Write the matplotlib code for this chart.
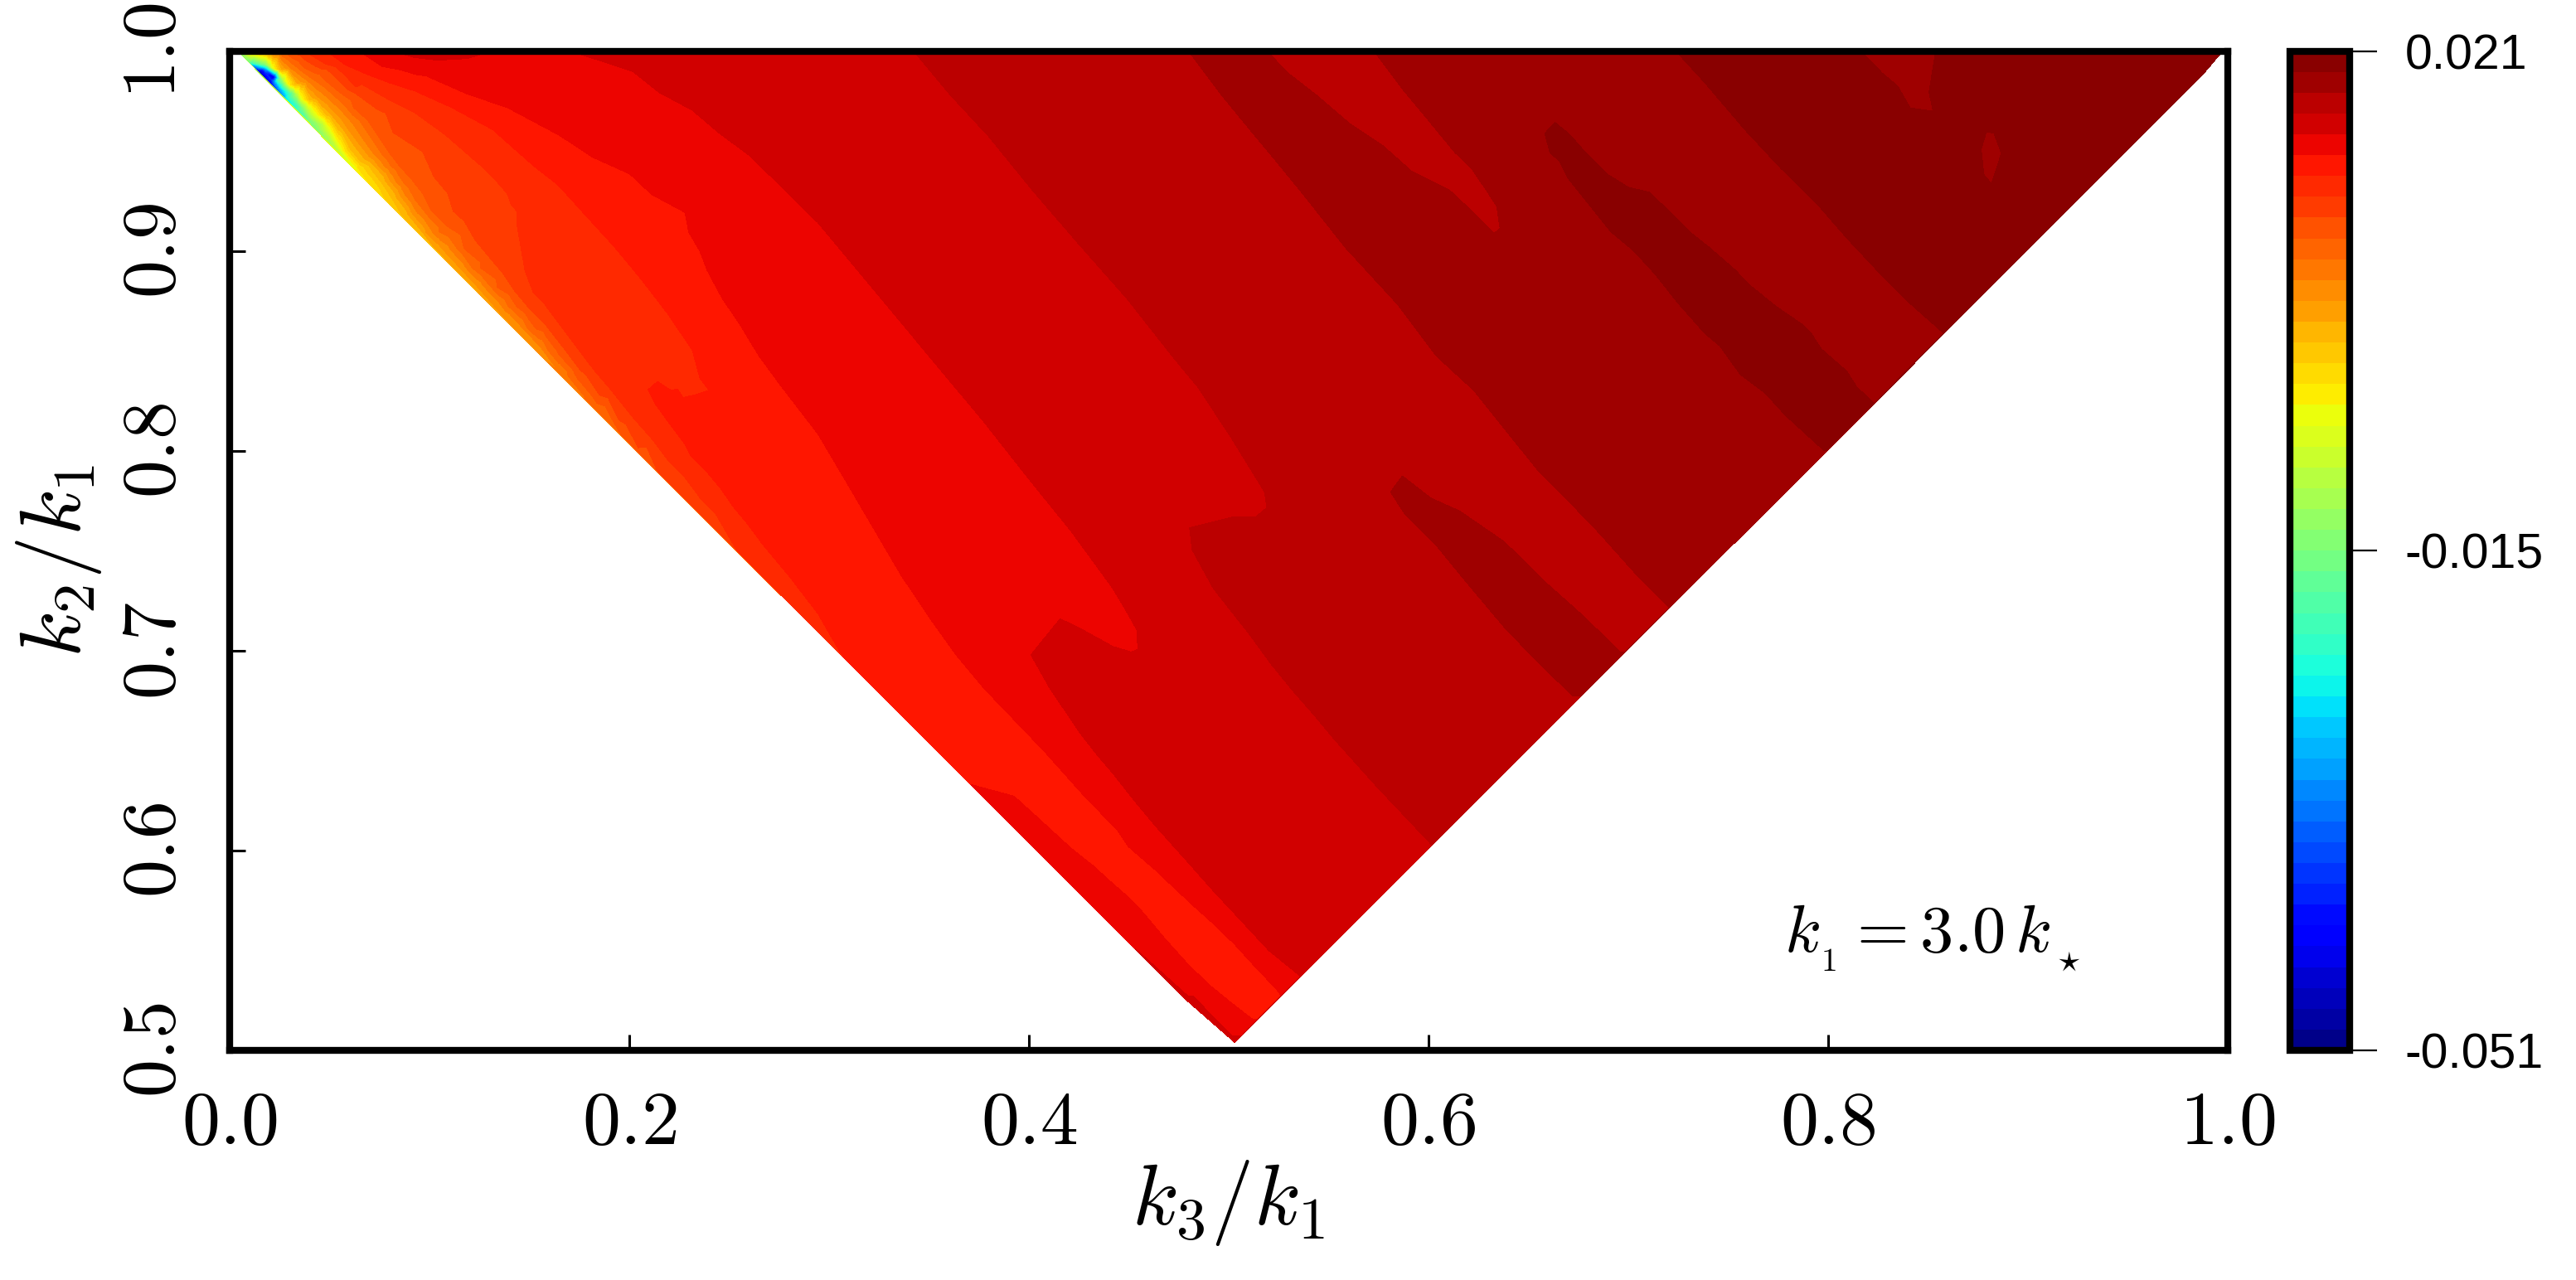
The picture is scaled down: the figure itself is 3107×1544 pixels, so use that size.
import matplotlib
matplotlib.use('Agg')
import matplotlib.pyplot as plt
import matplotlib.tri as mtri
import numpy as np

# colour scale
z_min = -0.051
z_max = 0.021
n_bands = 48
cbar_ticks = [-0.051, -0.015, 0.021]
cbar_labels = ['-0.051', '-0.015', '0.021']
x_ticks = [0.0, 0.2, 0.4, 0.6, 0.8, 1.0]
y_ticks = [0.5, 0.6, 0.7, 0.8, 0.9, 1.0]

# iso-value curves, (k3/k1, k2/k1)
iso_m040 = [(.0134, .9909), (.0178, .9891), (.0209, .9854), (.0220, .9822)]
iso_m030 = [(.0116, .9930), (.0185, .9909), (.0227, .9847), (.0255, .9806), (.0273, .9774)]
iso_m020 = [(.0109, .9941), (.0172, .9927), (.0241, .9854), (.0296, .9792), (.0338, .9730), (.0365, .9681)]
iso_m015 = [(.0102, .9951), (.0178, .9933), (.0255, .9861), (.0317, .9792), (.0365, .9716), (.0400, .9654),
            (.0427, .9616)]
iso_m010 = [(.0068, 1.0), (.0199, .9927), (.0268, .9858), (.0338, .9781), (.0393, .9702), (.0462, .9633),
            (.0503, .9564), (.0531, .9513)]
iso_m006 = [(.0075, 1.0), (.0213, .9919), (.0282, .9850), (.0358, .9764), (.0427, .9688), (.0497, .9612),
            (.0552, .9515), (.0618, .9418)]
iso_m003 = [(.0089, 1.0), (.0234, .9909), (.0303, .9833), (.0379, .9757), (.0455, .9681), (.0524, .9598),
            (.0579, .9501), (.0642, .9418), (.0701, .9331)]
iso_000 = [(.0116, 1.0), (.0248, .9909), (.0324, .9833), (.0400, .9757), (.0483, .9681), (.0545, .9605),
           (.0600, .9515), (.0656, .9446), (.0697, .9426), (.0759, .9343), (.0814, .9260), (.0872, .9177)]
iso_0015 = [(.0137, 1.0), (.0261, .9909), (.0337, .9840), (.0420, .9764), (.0503, .9688), (.0566, .9612),
            (.0621, .9529), (.0676, .9460), (.0724, .9426), (.0773, .9371), (.0828, .9288), (.0883, .9205),
            (.0953, .9108), (.1038, .9011)]
iso_0030 = [(.0165, 1.0), (.0275, .9916), (.0358, .9847), (.0441, .9771), (.0524, .9695), (.0586, .9619),
            (.0642, .9543), (.0697, .9474), (.0745, .9426), (.0800, .9357), (.0856, .9274), (.0911, .9191),
            (.0980, .9094), (.1063, .9011), (.1153, .8914), (.1243, .8817), (.1384, .8665)]
iso_0045 = [(.0192, 1.0), (.0303, .9916), (.0386, .9854), (.0469, .9785), (.0552, .9709), (.0614, .9640),
            (.0669, .9557), (.0725, .9481), (.0773, .9426), (.0835, .9343), (.0883, .9274), (.0939, .9191),
            (.1008, .9108), (.1098, .9025), (.1167, .8942), (.1257, .8845), (.1354, .8735), (.1457, .8624),
            (.1561, .8513), (.1661, .8389)]
iso_0060 = [(.0220, 1.0), (.0331, .9923), (.0414, .9861), (.0497, .9799), (.0580, .9723), (.0649, .9654),
            (.0704, .9571), (.0759, .9488), (.0807, .9426), (.0870, .9343), (.0925, .9260), (.0980, .9191),
            (.1049, .9094), (.1139, .9011), (.1215, .8914), (.1298, .8831), (.1395, .8721), (.1492, .8610),
            (.1596, .8499), (.1693, .8375), (.1782, .8264), (.1868, .8181)]
iso_0075 = [(.0261, 1.0), (.0372, .9916), (.0469, .9861), (.0552, .9792), (.0621, .9716), (.0690, .9654),
            (.0745, .9571), (.0801, .9488), (.0849, .9426), (.0911, .9357), (.0966, .9288), (.1008, .9205),
            (.1091, .9122), (.1174, .9011), (.1257, .8914), (.1340, .8817), (.1437, .8721), (.1533, .8610),
            (.1644, .8486), (.1741, .8361), (.1838, .8237), (.1948, .8098), (.2059, .7981)]
iso_0090 = [(.0303, 1.0), (.0485, .9910), (.0633, .9785), (.0781, .9689), (.0818, .9592), (.0966, .9496),
            (.1022, .9371), (.1091, .9288), (.1119, .9198), (.1174, .9149), (.1229, .9053), (.1298, .8970),
            (.1368, .8887), (.1423, .8804), (.1492, .8721), (.1575, .8638), (.1672, .8513), (.1755, .8403),
            (.1852, .8278), (.1948, .8154), (.2045, .8015), (.2135, .7911)]
iso_0105 = [(.0372, 1.0), (.0480, .9935), (.0633, .9820), (.0790, .9760), (.0929, .9689), (.1080, .9580),
            (.1257, .9426), (.1340, .9343), (.1388, .9288), (.1409, .9232), (.1437, .9198), (.1437, .9136),
            (.1402, .9025), (.1409, .8983), (.1478, .8900), (.1520, .8790), (.1575, .8735), (.1616, .8679),
            (.1741, .8513), (.1824, .8403), (.1907, .8306), (.2018, .8167), (.2115, .8057), (.2198, .7946),
            (.2281, .7863), (.2363, .7752), (.2433, .7683), (.2537, .7503)]
iso_0120 = [(.0483, 1.0), (.0580, .9930), (.0690, .9882), (.0801, .9840), (.0929, .9799), (.1113, .9716),
            (.1317, .9606), (.1520, .9426), (.1644, .9329), (.1782, .9177), (.1921, .9025), (.2059, .8859),
            (.2197, .8679), (.2316, .8502), (.2353, .8364), (.2399, .8302), (.2335, .8281), (.2242, .8309),
            (.2142, .8347), (.2100, .8333), (.2094, .8306), (.2128, .8237), (.2198, .8140), (.2281, .8029),
            (.2308, .7974), (.2391, .7891), (.2460, .7808), (.2516, .7725), (.2585, .7642), (.2668, .7531),
            (.2806, .7365), (.2944, .7185), (.3055, .6992), (.3076, .6971)]
iso_0135 = [(.0646, 1.0), (.0762, .9923), (.0984, .9875), (.1188, .9785), (.1391, .9716), (.1650, .9578),
            (.1817, .9468), (.2002, .9385), (.2112, .9282), (.2279, .9192), (.2297, .9095), (.2353, .8999),
            (.2390, .8902), (.2464, .8764), (.2557, .8626), (.2649, .8474), (.2760, .8323), (.2944, .8084),
            (.3083, .7849), (.3221, .7614), (.3359, .7379), (.3498, .7171), (.3636, .6978), (.3774, .6812),
            (.3891, .6690), (.4077, .6496), (.4262, .6289), (.4447, .6096), (.4632, .5903), (.4730, .5810),
            (.4831, .5716), (.4933, .5625), (.5030, .5530), (.5130, .5420), (.5237, .5308)]
iso_0135_low = [(.3726, .6362), (.3830, .6349), (.3925, .6272), (.4060, .6150), (.4209, .6013), (.4320, .5925),
                (.4420, .5834), (.4500, .5765), (.4566, .5696), (.4680, .5560), (.4795, .5432), (.4900, .5330),
                (.5010, .5240), (.5119, .5156)]
iso_0150 = [(.1706, 1.0), (.2020, .9896), (.2150, .9792), (.2316, .9703), (.2446, .9592), (.2600, .9478),
            (.2830, .9254), (.2942, .9143), (.3120, .8930), (.3299, .8715), (.3537, .8429), (.3775, .8144),
            (.4013, .7842), (.4209, .7600), (.4315, .7455), (.4420, .7311), (.4480, .7210), (.4540, .7104),
            (.4545, .7007), (.4513, .6993), (.4420, .7021), (.4340, .7065), (.4250, .7115), (.4156, .7159),
            (.4010, .7186), (.3976, .7117), (.4010, .6979), (.4103, .6814), (.4180, .6700), (.4262, .6579),
            (.4340, .6480), (.4420, .6386), (.4519, .6260), (.4632, .6124), (.4795, .5942), (.4930, .5790),
            (.5071, .5639), (.5200, .5500), (.5333, .5370)]
iso_0150_top = [(.0818, 1.0), (.0925, .9967), (.1040, .9954), (.1188, .9962), (.1317, 1.0)]
iso_0150_low = [(.4533, .5508), (.4588, .5459), (.4726, .5335), (.4933, .5156), (.5037, .5073)]
iso_0165 = [(.3423, 1.0), (.3608, .9778), (.3799, .9572), (.4020, .9300), (.4251, .9032), (.4489, .8763),
            (.4727, .8461), (.4846, .8318), (.5013, .8064), (.5179, .7794), (.5191, .7715), (.5132, .7667),
            (.5013, .7667), (.4804, .7614), (.4817, .7504), (.4923, .7311), (.5108, .7076), (.5210, .6935),
            (.5320, .6800), (.5425, .6680), (.5532, .6552), (.5743, .6317), (.6008, .6027)]
iso_0180 = [(.4798, 1.0), (.4965, .9778), (.5108, .9604), (.5240, .9445), (.5370, .9286), (.5584, .9016),
            (.5846, .8731), (.6036, .8477), (.6226, .8302), (.6391, .8096), (.6544, .7906), (.6683, .7766),
            (.6855, .7587), (.7040, .7380), (.7199, .7214)]
iso_0180_tongue = [(.5191, 1.0), (.5298, .9889), (.5441, .9778), (.5608, .9635), (.5774, .9524), (.5917, .9397),
                   (.6107, .9302), (.6226, .9191), (.6328, .9088), (.6358, .9112), (.6341, .9223), (.6290, .9302),
                   (.6214, .9413), (.6131, .9493), (.5988, .9667), (.5869, .9810), (.5727, 1.0)]
iso_0180_strip = [(.5774, .7937), (.5762, .7906), (.5810, .7794), (.5881, .7683), (.6035, .7531), (.6193, .7338),
                  (.6379, .7117), (.6537, .6952), (.6723, .6772), (.6960, .6993), (.6775, .7173), (.6590, .7338),
                  (.6379, .7545), (.6155, .7699), (.6012, .7763), (.5869, .7874)]
iso_0195 = [(.7237, 1.0), (.7382, .9842), (.7585, .9604), (.7763, .9413), (.7941, .9239), (.8093, .9064),
            (.8271, .8874), (.8398, .8747), (.8576, .8588)]
iso_0195_strip = [(.6607, .9654), (.6582, .9588), (.6607, .9493), (.6658, .9445), (.6696, .9366), (.6823, .9207),
                  (.6912, .9096), (.7026, .9001), (.7128, .8890), (.7255, .8731), (.7382, .8588), (.7458, .8524),
                  (.7560, .8382), (.7687, .8286), (.7788, .8175), (.7979, .8001), (.8233, .8239), (.8144, .8318),
                  (.8093, .8398), (.7966, .8509), (.7915, .8588), (.7865, .8636), (.7738, .8723), (.7611, .8826),
                  (.7534, .8905), (.7407, .9016), (.7306, .9096), (.7179, .9223), (.7103, .9294), (.7001, .9318),
                  (.6899, .9381), (.6772, .9508), (.6709, .9580), (.6633, .9643)]
iso_0195_patch = [(.8164, 1.0), (.8271, .9889), (.8347, .9826), (.8411, .9715), (.8525, .9699), (.8505, .9794),
                  (.8538, 1.0)]
iso_0195_spot = [(.8792, .9596), (.8766, .9508), (.8779, .9382), (.8817, .9337), (.8843, .9413), (.8830, .9588)]

isolines = [(-.040, iso_m040), (-.030, iso_m030), (-.020, iso_m020), (-.015, iso_m015), (-.010, iso_m010),
            (-.006, iso_m006), (-.003, iso_m003), (0.0, iso_000), (.0015, iso_0015), (.0030, iso_0030),
            (.0045, iso_0045), (.0060, iso_0060), (.0075, iso_0075), (.0090, iso_0090), (.0105, iso_0105),
            (.0120, iso_0120), (.0135, iso_0135), (.0135, iso_0135_low), (.0150, iso_0150), (.0150, iso_0150_top),
            (.0150, iso_0150_low), (.0165, iso_0165), (.0180, iso_0180), (.0180, iso_0180_tongue),
            (.0180, iso_0180_strip), (.0195, iso_0195), (.0195, iso_0195_strip), (.0195, iso_0195_patch),
            (.0195, iso_0195_spot)]

# values along the three edges of the triangle
left_k2 = [.9958, .9941, .9930, .9909, .9889, .9868, .9833, .9806, .9785, .9757, .9709, .9681, .9616, .9513, .9418,
           .9331, .9177, .9011, .8665, .8389, .8181, .7981, .7911, .7503, .6971, .6330, .5900, .5508, .5250]
left_z = [-.015, -.020, -.030, -.040, -.049, -.049, -.044, -.037, -.033, -.027, -.022, -.020, -.015, -.010, -.006,
          -.003, 0.0, .0015, .0030, .0045, .0060, .0075, .0090, .0105, .0120, .0135, .0144, .0150, .0156]
right_k2 = [.5040, .5073, .5156, .5215, .5273, .5370, .6027, .6400, .6772, .6885, .6993, .7100, .7214, .7600, .8001,
            .8120, .8239, .8415, .8588, .9000, .9500, .9900]
right_z = [.0155, .0150, .0135, .0130, .0135, .0150, .0165, .0172, .0180, .0186, .0180, .0176, .0180, .0188, .0195,
           .0205, .0195, .0190, .0195, .0205, .0205, .0205]
top_k3 = [.0040, .1050, .1500, .2500, .5000, .5450, .6500, .7700, .8350, .9200, .9975]
top_z = [-.012, .0156, .0145, .0158, .0186, .0172, .0188, .0205, .0189, .0205, .0205]

# points inside the bands: (k3/k1, k2/k1, value)
inner_maroon = [(.668, .948), (.662, .958), (.676, .935), (.688, .920), (.700, .917), (.720, .898), (.740, .878),
                (.760, .858), (.780, .840), (.800, .822), (.808, .8145), (.800, .985), (.830, .930), (.860, .900),
                (.900, .930), (.940, .970), (.880, .980), (.920, .990), (.865, .975), (.865, .950), (.870, .925),
                (.895, .950), (.890, .972), (.850, .950), (.840, .955)]
inner_dark = [(.585, .780), (.610, .760), (.635, .735), (.655, .715), (.675, .695), (.842, .985), (.880, .948),
              (.500, .990), (.520, .975), (.540, .960), (.560, .940), (.580, .920), (.600, .900), (.620, .885),
              (.630, .870), (.645, .860), (.660, .840), (.670, .820), (.650, .900), (.650, .930), (.635, .950),
              (.610, .980)]
inner_185 = [(.570, .975), (.600, .945), (.620, .925), (.530, .750), (.520, .740), (.505, .750), (.545, .730),
             (.515, .715), (.530, .710), (.560, .680), (.580, .660), (.535, .800), (.550, .780), (.560, .820),
             (.540, .770), (.500, .745), (.490, .750)]
inner_207 = [(.420, .700), (.435, .685), (.445, .665), (.455, .660), (.470, .680), (.475, .645), (.490, .630),
             (.505, .610), (.525, .585), (.500, .660), (.480, .700), (.465, .720), (.460, .760), (.440, .790),
             (.420, .810), (.400, .840), (.370, .875), (.340, .910), (.300, .960), (.260, .985)]
inner_237 = [(.400, .610), (.430, .580), (.455, .555), (.480, .530), (.500, .512), (.455, .610), (.480, .585),
             (.510, .555), (.470, .595), (.445, .565)]
inner_24 = [(.235, .815), (.220, .825), (.225, .822), (.215, .8275), (.395, .645), (.430, .605), (.455, .585),
            (.465, .578), (.477, .565), (.490, .545), (.510, .530), (.445, .595)]
inner_groups = [(.0205, inner_maroon), (.0187, inner_dark), (.0172, inner_185), (.0157, inner_207),
                (.0143, inner_237), (.0128, inner_24), (.0115, [(.228, .8295), (.222, .8335)]),
                (-.045, [(.022, .987), (.016, .990)])]

# collect everything into one set of scattered samples
k3_pts, k2_pts, z_pts = [], [], []
for level, curve in isolines + inner_groups:
    for a, b in curve:
        k3_pts.append(a)
        k2_pts.append(b)
        z_pts.append(level)
for b, v in zip(left_k2, left_z):
    k3_pts.append(1 - b + 0.004)
    k2_pts.append(b)
    z_pts.append(v)
for b, v in zip(right_k2, right_z):
    k3_pts.append(b - 0.001)
    k2_pts.append(b)
    z_pts.append(v)
for a, v in zip(top_k3, top_z):
    k3_pts.append(a)
    k2_pts.append(1.0)
    z_pts.append(v)

# values sitting on a band edge must all fall on its lower side
z_pts = np.array(z_pts) - 1e-7

plt.rcParams['mathtext.fontset'] = 'cm'
W, H = 3107, 1544
fig = plt.figure(figsize=(W / 100, H / 100), dpi=100)
ax = fig.add_axes([277 / W, 1 - 1267 / H, 2410 / W, 1205.5 / H])
cax = fig.add_axes([2762 / W, 1 - 1267 / H, 72 / W, 1205.5 / H])

levels = np.linspace(z_min, z_max, n_bands + 1)
triang = mtri.Triangulation(k3_pts, k2_pts)
cs = ax.tricontourf(triang, z_pts, levels=levels, cmap='jet', vmin=z_min, vmax=z_max)

ax.set_xlim(0, 1)
ax.set_ylim(0.5, 1)
ax.set_xticks(x_ticks)
ax.set_yticks(y_ticks)
ax.set_xticklabels(['$%.1f$' % t for t in x_ticks], fontsize=66)
ax.set_yticklabels(['$%.1f$' % t for t in y_ticks], fontsize=66, rotation=90, va='center')
ax.tick_params(axis='x', direction='in', length=14, width=2.2, pad=30, top=False)
ax.tick_params(axis='y', direction='in', length=14, width=2.2, pad=34, right=False)
for s in ax.spines.values():
    s.set_linewidth(6)

ax.set_xlabel('$k_3/k_1$', fontsize=74)
ax.xaxis.set_label_coords(0.5, -0.108)
ax.set_ylabel('$k_2/k_1$', fontsize=74)
ax.yaxis.set_label_coords(-0.063, 0.49)
ax.text(0.778, 0.5494, r'$k_{_1}=3.0\,k_{_\star}$', fontsize=58, va='baseline', ha='left')

cbar = fig.colorbar(cs, cax=cax, ticks=cbar_ticks)
cbar.ax.set_yticklabels(cbar_labels, family='Liberation Sans', fontsize=42.5)
cbar.ax.tick_params(length=24, width=1.6, pad=24)
cbar.outline.set_linewidth(6)

fig.savefig('out.png', dpi=100)
